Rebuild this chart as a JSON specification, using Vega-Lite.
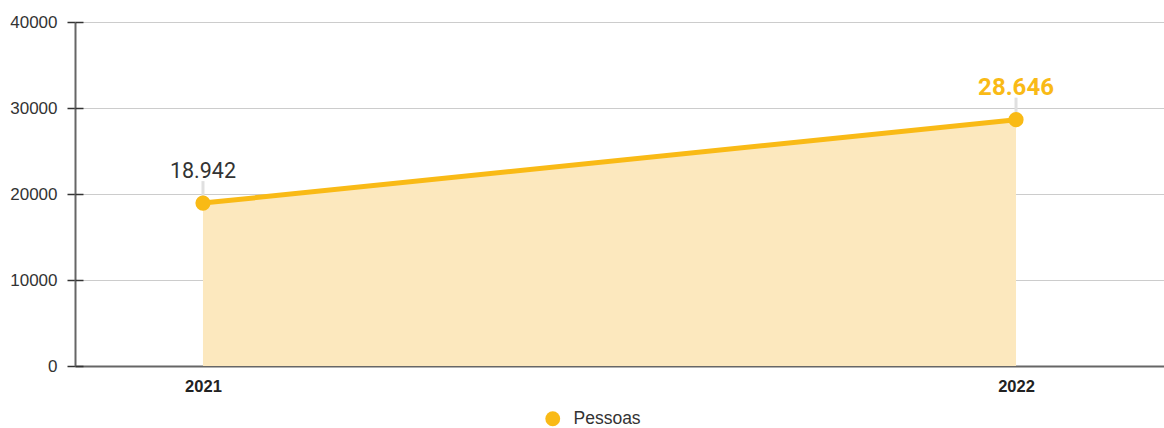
{
  "$schema": "https://vega.github.io/schema/vega-lite/v6.json",
  "width": 1089,
  "height": 344,
  "autosize": {"type": "none"},
  "padding": {"left": 75, "top": 22, "right": 0, "bottom": 62},
  "config": {
    "view": {"stroke": null},
    "locale": {"number": {"decimal": ",", "thousands": ".", "grouping": [3], "currency": ["R$", ""]}},
    "font": "Liberation Sans"
  },
  "data": {
    "values": [
      {"year": 2021, "value": 18942, "series": "Pessoas"},
      {"year": 2022, "value": 28646, "series": "Pessoas"}
    ]
  },
  "encoding": {
    "x": {
      "field": "year",
      "type": "quantitative",
      "scale": {"domain": [2020.8426, 2022.182], "nice": false, "zero": false},
      "axis": {
        "values": [2021, 2022],
        "format": "d",
        "title": null,
        "grid": false,
        "ticks": false,
        "labelPadding": 12,
        "labelFont": "Liberation Sans",
        "labelFontSize": 16.5,
        "labelFontWeight": "bold",
        "labelColor": "#222222",
        "domainColor": "#666666",
        "domainWidth": 2
      }
    }
  },
  "layer": [
    {
      "mark": {"type": "area", "color": "#FCE8BE", "opacity": 1},
      "encoding": {
        "y": {
          "field": "value",
          "type": "quantitative",
          "scale": {"domain": [0, 40000], "nice": false},
          "axis": {
            "values": [0, 10000, 20000, 30000, 40000],
            "format": "d",
            "title": null,
            "grid": true,
            "gridColor": "#cccccc",
            "gridWidth": 1,
            "tickSize": 8,
            "tickColor": "#333333",
            "tickWidth": 1.5,
            "labelPadding": 10,
            "labelFont": "Liberation Sans",
            "labelFontSize": 17,
            "labelColor": "#333333",
            "domainColor": "#666666",
            "domainWidth": 2
          }
        }
      }
    },
    {
      "mark": {"type": "rule", "color": "#e0e0e0", "strokeWidth": 3, "y2Offset": -22},
      "encoding": {
        "y": {
          "field": "value",
          "type": "quantitative",
          "axis": {
            "values": [0, 10000, 20000, 30000, 40000],
            "orient": "left",
            "offset": -8,
            "labels": false,
            "domain": false,
            "grid": false,
            "title": null,
            "tickSize": 8,
            "tickColor": "#333333",
            "tickWidth": 1.5
          }
        },
        "y2": {"field": "value"}
      }
    },
    {
      "mark": {"type": "line", "strokeWidth": 5},
      "encoding": {
        "y": {"field": "value", "type": "quantitative", "axis": null},
        "color": {
          "field": "series",
          "type": "nominal",
          "scale": {"range": ["#F9BA16"]},
          "legend": {
            "title": null,
            "orient": "none",
            "legendX": 469,
            "legendY": 388,
            "padding": 0,
            "symbolType": "circle",
            "symbolSize": 220,
            "symbolStrokeWidth": 0,
            "symbolFillColor": "#F9BA16",
            "symbolOpacity": 1,
            "labelFont": "Liberation Sans",
            "labelFontSize": 17.5,
            "labelColor": "#333333",
            "labelOffset": 12
          }
        }
      }
    },
    {
      "mark": {"type": "point", "filled": true, "size": 230, "opacity": 1},
      "encoding": {
        "y": {"field": "value", "type": "quantitative", "axis": null},
        "color": {"field": "series", "type": "nominal", "legend": null}
      }
    },
    {
      "transform": [{"filter": "datum.year == 2021"}],
      "mark": {"type": "text", "font": "Roboto", "fontSize": 21.5, "color": "#333333", "dy": -25, "baseline": "alphabetic"},
      "encoding": {
        "y": {"field": "value", "type": "quantitative", "axis": null},
        "text": {"field": "value", "type": "quantitative", "format": ",d"}
      }
    },
    {
      "transform": [{"filter": "datum.year == 2022"}],
      "mark": {"type": "text", "font": "Roboto", "fontSize": 24, "fontWeight": "bold", "color": "#F9BA16", "dy": -25, "baseline": "alphabetic"},
      "encoding": {
        "y": {"field": "value", "type": "quantitative", "axis": null},
        "text": {"field": "value", "type": "quantitative", "format": ",d"}
      }
    }
  ],
  "resolve": {"axis": {"y": "independent"}}
}
